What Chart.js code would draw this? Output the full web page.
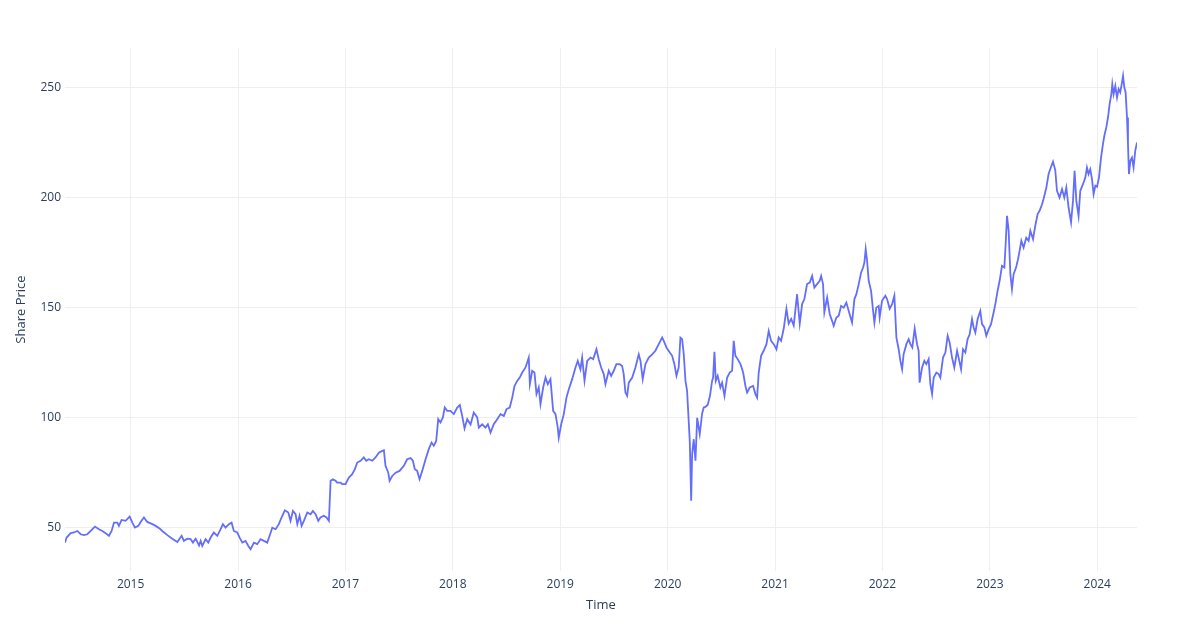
<!DOCTYPE html>
<html><head><meta charset="utf-8">
<script src="https://cdn.jsdelivr.net/npm/chart.js@4.4.1/dist/chart.umd.min.js"></script>
<style>html,body{margin:0;padding:0;background:#fff}#wrap{width:1200px;height:640px;position:relative}</style>
</head><body><div id="wrap"><canvas id="c"></canvas></div>
<script>
// decimal year of each sample
const dates = [
2014.389,2014.404,2014.442,2014.472,2014.504,2014.535,2014.565,2014.597,2014.628,2014.668,
2014.705,2014.737,2014.767,2014.798,2014.823,2014.845,2014.876,2014.891,2014.916,2014.953,
2014.991,2015.016,2015.040,2015.072,2015.093,2015.124,2015.155,2015.202,2015.233,2015.270,
2015.295,2015.342,2015.388,2015.435,2015.475,2015.496,2015.528,2015.558,2015.580,2015.605,
2015.637,2015.652,2015.667,2015.698,2015.723,2015.745,2015.775,2015.807,2015.838,2015.859,
2015.884,2015.915,2015.940,2015.961,2015.993,2016.015,2016.040,2016.070,2016.096,2016.117,
2016.148,2016.179,2016.210,2016.241,2016.272,2016.294,2016.319,2016.350,2016.380,2016.405,
2016.436,2016.468,2016.489,2016.511,2016.536,2016.552,2016.573,2016.592,2016.613,2016.645,
2016.675,2016.697,2016.722,2016.747,2016.768,2016.799,2016.824,2016.846,2016.862,2016.883,
2016.908,2016.924,2016.955,2016.970,2017.001,2017.032,2017.063,2017.088,2017.110,2017.141,
2017.171,2017.194,2017.218,2017.250,2017.280,2017.311,2017.343,2017.358,2017.373,2017.399,
2017.411,2017.436,2017.467,2017.504,2017.544,2017.575,2017.606,2017.628,2017.646,2017.668,
2017.690,2017.715,2017.746,2017.776,2017.802,2017.823,2017.845,2017.864,2017.885,2017.907,
2017.925,2017.948,2017.978,2018.009,2018.041,2018.065,2018.087,2018.109,2018.134,2018.165,
2018.195,2018.227,2018.242,2018.273,2018.304,2018.326,2018.351,2018.381,2018.413,2018.444,
2018.475,2018.500,2018.530,2018.553,2018.574,2018.599,2018.623,2018.646,2018.677,2018.707,
2018.717,2018.739,2018.760,2018.779,2018.800,2018.816,2018.841,2018.863,2018.884,2018.909,
2018.934,2018.956,2018.977,2018.986,2019.009,2019.033,2019.058,2019.080,2019.111,2019.142,
2019.163,2019.188,2019.204,2019.226,2019.251,2019.282,2019.307,2019.337,2019.359,2019.381,
2019.405,2019.421,2019.452,2019.474,2019.498,2019.523,2019.554,2019.576,2019.591,2019.607,
2019.623,2019.638,2019.670,2019.700,2019.731,2019.747,2019.768,2019.793,2019.824,2019.856,
2019.886,2019.917,2019.949,2019.964,2019.989,2020.020,2020.042,2020.063,2020.082,2020.103,
2020.119,2020.135,2020.150,2020.166,2020.181,2020.196,2020.206,2020.219,2020.228,2020.243,
2020.259,2020.275,2020.299,2020.321,2020.336,2020.352,2020.373,2020.394,2020.414,2020.423,
2020.436,2020.448,2020.466,2020.491,2020.507,2020.529,2020.554,2020.578,2020.600,2020.615,
2020.631,2020.652,2020.678,2020.703,2020.724,2020.740,2020.764,2020.796,2020.817,2020.833,
2020.848,2020.870,2020.894,2020.920,2020.941,2020.963,2020.988,2021.013,2021.034,2021.056,
2021.081,2021.106,2021.127,2021.150,2021.174,2021.205,2021.230,2021.252,2021.273,2021.298,
2021.323,2021.345,2021.366,2021.391,2021.416,2021.429,2021.447,2021.459,2021.485,2021.509,
2021.531,2021.546,2021.571,2021.593,2021.615,2021.639,2021.664,2021.686,2021.717,2021.739,
2021.757,2021.779,2021.801,2021.820,2021.832,2021.844,2021.857,2021.872,2021.894,2021.913,
2021.925,2021.943,2021.965,2021.974,2021.996,2022.027,2022.043,2022.067,2022.090,2022.111,
2022.130,2022.151,2022.167,2022.183,2022.197,2022.223,2022.244,2022.260,2022.278,2022.300,
2022.322,2022.337,2022.346,2022.369,2022.390,2022.409,2022.430,2022.446,2022.462,2022.477,
2022.502,2022.523,2022.539,2022.564,2022.586,2022.607,2022.626,2022.648,2022.669,2022.695,
2022.709,2022.732,2022.750,2022.772,2022.793,2022.812,2022.834,2022.849,2022.865,2022.886,
2022.911,2022.927,2022.949,2022.967,2022.989,2023.011,2023.035,2023.051,2023.072,2023.091,
2023.113,2023.135,2023.147,2023.160,2023.175,2023.191,2023.206,2023.221,2023.244,2023.262,
2023.277,2023.293,2023.314,2023.339,2023.361,2023.377,2023.402,2023.423,2023.445,2023.463,
2023.486,2023.500,2023.526,2023.547,2023.569,2023.588,2023.609,2023.625,2023.649,2023.672,
2023.693,2023.712,2023.733,2023.756,2023.774,2023.789,2023.805,2023.826,2023.842,2023.867,
2023.889,2023.904,2023.919,2023.935,2023.951,2023.966,2023.982,2023.998,2024.016,2024.035,
2024.053,2024.066,2024.084,2024.100,2024.115,2024.131,2024.140,2024.152,2024.168,2024.184,
2024.199,2024.214,2024.230,2024.240,2024.252,2024.264,2024.277,2024.286,2024.295,2024.308,
2024.323,2024.338,2024.354,2024.370
];
// share price at each sample
const prices = [
43.3,45.6,47.6,47.9,48.6,47.1,46.7,47.1,48.6,50.6,
49.4,48.6,47.6,46.4,48.6,52.4,52.4,50.9,53.6,53.2,
55.1,52.4,50.1,50.9,52.7,54.7,52.7,51.7,50.9,49.7,
48.6,46.7,45.1,43.6,46.4,44.1,45.1,44.9,43.3,45.1,
42.0,44.1,41.8,44.9,43.3,45.6,47.9,46.4,49.4,51.7,
50.1,51.7,52.4,48.6,47.9,45.6,43.3,44.1,41.8,40.3,
43.3,42.6,44.9,44.1,43.3,46.4,50.1,49.4,51.7,54.7,
58.0,57.0,53.2,57.7,56.2,51.7,55.5,50.9,53.2,57.0,
56.2,57.7,56.2,53.2,54.7,55.5,54.7,53.2,71.4,72.1,
71.4,70.6,70.6,69.9,69.9,72.9,74.4,76.7,79.7,80.5,
82.0,80.5,81.2,80.5,82.0,84.2,85.0,85.3,78.2,75.1,
71.4,73.6,75.1,75.9,78.2,81.2,81.7,80.5,76.7,75.9,
72.1,75.9,81.2,85.8,88.8,87.3,89.5,99.4,97.9,100.2,
104.7,103.2,103.2,101.7,104.7,105.8,100.9,95.2,99.4,97.0,
102.4,100.2,95.6,97.1,95.6,97.1,93.3,97.1,99.4,101.7,
100.9,104.0,104.7,109.2,114.5,116.8,118.3,120.6,122.9,127.4,
115.3,121.4,120.6,110.8,113.8,106.2,113.8,118.3,115.3,117.6,
103.2,101.7,95.6,91.0,97.1,101.7,109.2,113.0,117.6,122.9,
125.9,122.1,127.4,116.8,125.9,127.4,126.7,131.2,126.5,122.9,
119.9,115.3,121.4,119.1,121.4,124.4,124.4,123.6,119.9,111.5,
110.0,116.0,118.3,122.9,128.9,125.9,117.6,124.4,127.4,128.9,
130.5,133.5,136.5,135.0,132.0,129.7,128.2,124.4,119.1,122.9,
136.5,135.8,128.9,116.8,112.3,98.6,89.5,62.3,83.5,90.3,
80.5,100.0,92.6,102.0,104.7,105.0,106.0,110.0,116.8,118.3,
130.0,116.8,119.1,113.8,116.0,110.0,118.3,120.6,121.4,135.0,
128.2,126.7,124.4,120.6,114.5,111.5,113.8,114.5,110.8,109.2,
120.6,128.2,130.5,133.5,139.5,135.0,133.5,131.2,136.5,135.0,
140.6,149.6,142.8,145.0,142.0,156.2,142.8,151.7,154.0,160.8,
161.5,164.5,159.2,160.8,162.3,164.5,160.8,148.0,154.7,147.2,
144.1,141.8,145.6,146.4,150.9,150.1,152.4,148.6,143.3,154.0,
156.2,160.8,166.0,168.3,170.6,176.7,171.4,162.3,157.7,148.6,
143.3,150.1,150.9,145.6,153.2,155.5,154.0,149.6,151.7,155.5,
136.5,131.2,125.9,122.1,128.9,133.5,135.8,133.5,132.0,140.6,
133.5,130.5,116.0,122.9,125.9,124.4,126.7,115.3,110.8,118.3,
120.6,119.9,118.3,127.4,129.7,137.3,134.2,127.4,122.9,130.5,
127.4,122.1,131.2,129.7,135.8,138.0,144.9,141.1,138.8,144.9,
148.6,142.6,141.1,137.3,140.3,142.6,147.9,151.7,157.7,162.3,
169.1,168.3,178.9,191.8,185.0,165.3,158.5,165.3,168.3,172.1,
175.9,180.5,177.4,181.9,180.5,185.0,181.2,187.3,192.6,194.1,
197.1,199.5,204.7,210.8,214.0,216.4,212.6,203.2,200.1,204.0,
200.1,204.7,195.6,188.8,198.6,212.3,198.6,191.8,203.2,206.2,
209.2,213.8,210.8,213.0,208.5,201.7,205.5,205.0,209.2,218.3,
224.4,228.2,232.0,236.5,242.6,247.1,251.7,247.1,250.9,245.6,
249.4,247.9,252.4,255.5,250.1,247.9,236.5,224.4,210.8,216.8,
218.3,213.8,221.5,225.2
];
const xTickYears = [2015,2016,2017,2018,2019,2020,2021,2022,2023,2024];
const yTickValues = [50,100,150,200,250];
const xTitle = 'Time';
const yTitle = 'Share Price';

Chart.defaults.font.family = '"Open Sans", "Noto Sans", sans-serif';
const points = dates.map((d, i) => ({x: d, y: prices[i]}));

new Chart(document.getElementById('c'), {
  type: 'line',
  data: { datasets: [{ data: points, borderColor: '#636efa', borderWidth: 1.8,
    pointRadius: 0, tension: 0, fill: false }] },
  options: {
    responsive: true, maintainAspectRatio: false, animation: false,
    layout: { padding: { left: 0, top: 48, right: 63, bottom: 0 } },
    plugins: { legend: { display: false }, tooltip: { enabled: false } },
    scales: {
      x: {
        type: 'linear', min: dates[0], max: dates[dates.length - 1],
        afterBuildTicks: s => { s.ticks = xTickYears.map(v => ({ value: v })); },
        afterFit: s => { s.height = 69; },
        grid: { color: '#efefef', drawTicks: false, lineWidth: 1 },
        border: { display: false },
        ticks: { autoSkip: false, maxRotation: 0, padding: 6, color: '#2a3f5f',
          font: { size: 12 }, callback: v => String(v) },
        title: { display: true, text: xTitle, color: '#2a3f5f', font: { size: 13 },
          padding: { top: 0, bottom: 27 } }
      },
      y: {
        min: 30.4, max: 268.1,
        afterBuildTicks: s => { s.ticks = yTickValues.map(v => ({ value: v })); },
        afterFit: s => { s.width = 65; },
        grid: { color: '#efefef', drawTicks: false, lineWidth: 1 },
        border: { display: false },
        ticks: { padding: 4, color: '#2a3f5f', font: { size: 12 }, callback: v => String(v) },
        title: { display: true, text: yTitle, color: '#2a3f5f', font: { size: 13 },
          padding: { top: 13, bottom: 0 } }
      }
    }
  }
});
</script>
</body></html>
